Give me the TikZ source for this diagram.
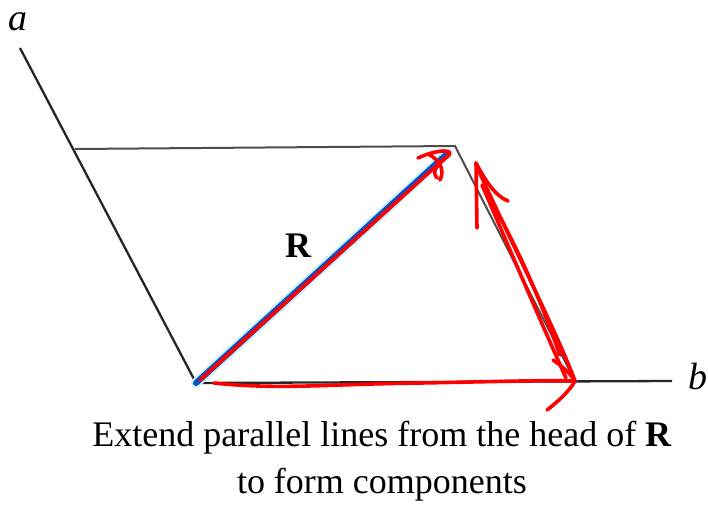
\documentclass[tikz,border=0pt]{standalone}
\usepackage{fontspec}
\setmainfont{Liberation Serif}
\begin{document}
\begin{tikzpicture}[x=1pt,y=-1pt,
  axis/.style={line width=2.3pt,black!85},
  thinline/.style={line width=2pt,black!70},
  vec/.style={line width=6pt,blue!60!cyan!80!black,line cap=round},
  ink/.style={line width=3.6pt,red,line cap=round,line join=round},
  lbl/.style={font=\fontsize{38}{40}\selectfont\itshape,inner sep=0pt},
  captext/.style={font=\fontsize{36}{47}\selectfont,align=center,inner sep=0pt}]
\useasboundingbox (0,0) rectangle (708,508);
\fill[white] (0,0) rectangle (708,508);
% coordinates
\coordinate (O) at (196,383);
\coordinate (A) at (20,48);
\coordinate (B) at (672,381);
\coordinate (T) at (75,149);
\coordinate (P) at (455,146);
\coordinate (Q) at (575,381);
% frame lines
\draw[axis] (A) -- (O) -- (B);
\draw[thinline] (T) -- (P) -- (Q);
% vector R
\draw[line width=10pt,cyan!20,line cap=round] (O) -- (448,153);
\draw[vec] (O) -- (448,153);
% red overlays
\draw[ink] (200,380) -- (446,157);
\draw[ink] (418,158) .. controls (440,148) and (455,150) .. (448,156)
  .. controls (440,163) and (430,170) .. (437,178) (428,154) .. controls (440,160) and (445,170) .. (440,180);
\draw[ink] (214,383) .. controls (280,390) and (330,384) .. (420,383)
  .. controls (480,382) and (540,380) .. (Q);
\draw[ink] (553,360) .. controls (565,368) and (572,376) .. (Q)
  .. controls (570,390) and (560,400) .. (547,410);
\draw[ink] (Q) .. controls (560,340) and (520,260) .. (490,195)
  .. controls (482,178) and (478,170) .. (476,163);
\draw[ink] (566,378) .. controls (540,320) and (510,250) .. (482,185)
  .. controls (520,250) and (540,300) .. (560,355);
\draw[ink] (477,228) -- (476,163) .. controls (485,180) and (495,196) .. (508,201);
% labels
\node[lbl] (la) at (18,22) {a};
\node[lbl] (lb) at (698,376) {b};
\node[font=\fontsize{36}{40}\selectfont\bfseries,inner sep=0pt] (lR) at (298,246) {R};
\node[captext] (caption) at (382,461) {Extend parallel lines from the head of \textbf{R}\\to form components};
\end{tikzpicture}
\end{document}
